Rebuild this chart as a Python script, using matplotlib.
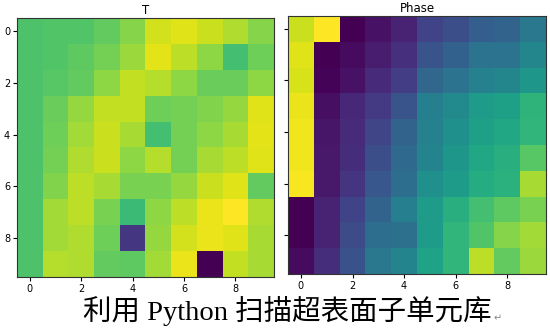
import numpy as np
import matplotlib.pyplot as plt

# transmission amplitude T (normalised), rows = y index, cols = x index
T = np.array([
    [0.72, 0.73, 0.73, 0.76, 0.82, 0.93, 0.95, 0.92, 0.88, 0.82],
    [0.72, 0.73, 0.75, 0.79, 0.85, 0.96, 0.90, 0.83, 0.70, 0.78],
    [0.72, 0.74, 0.76, 0.83, 0.91, 0.89, 0.83, 0.77, 0.77, 0.83],
    [0.72, 0.77, 0.84, 0.91, 0.91, 0.78, 0.79, 0.81, 0.84, 0.95],
    [0.72, 0.78, 0.86, 0.92, 0.87, 0.70, 0.79, 0.83, 0.87, 0.96],
    [0.72, 0.79, 0.88, 0.92, 0.83, 0.89, 0.79, 0.87, 0.90, 0.95],
    [0.72, 0.81, 0.90, 0.87, 0.80, 0.80, 0.84, 0.92, 0.95, 0.76],
    [0.72, 0.86, 0.90, 0.80, 0.68, 0.83, 0.90, 0.97, 1.00, 0.88],
    [0.72, 0.86, 0.88, 0.78, 0.16, 0.84, 0.93, 0.97, 0.95, 0.87],
    [0.72, 0.89, 0.88, 0.76, 0.75, 0.86, 0.97, 0.00, 0.91, 0.87],
])

# phase (normalised)
Phase = np.array([
    [0.92, 1.00, 0.00, 0.05, 0.10, 0.20, 0.24, 0.30, 0.32, 0.40],
    [0.95, 0.00, 0.03, 0.08, 0.14, 0.26, 0.31, 0.38, 0.38, 0.46],
    [0.94, 0.01, 0.05, 0.12, 0.18, 0.33, 0.38, 0.44, 0.46, 0.53],
    [0.97, 0.04, 0.11, 0.17, 0.26, 0.43, 0.48, 0.55, 0.57, 0.65],
    [0.98, 0.06, 0.12, 0.21, 0.32, 0.44, 0.50, 0.57, 0.60, 0.66],
    [0.98, 0.07, 0.13, 0.24, 0.34, 0.45, 0.53, 0.60, 0.63, 0.74],
    [0.99, 0.07, 0.15, 0.27, 0.36, 0.50, 0.55, 0.62, 0.64, 0.87],
    [0.00, 0.10, 0.20, 0.32, 0.43, 0.55, 0.63, 0.70, 0.75, 0.80],
    [0.00, 0.10, 0.23, 0.36, 0.37, 0.55, 0.66, 0.73, 0.82, 0.86],
    [0.03, 0.13, 0.25, 0.40, 0.45, 0.58, 0.66, 0.90, 0.76, 0.85],
])

titles = ['T', 'Phase']
caption = '利用 Python 扫描超表面子单元库'
ticks = [0, 2, 4, 6, 8]

fig = plt.figure(figsize=(5.5, 3.3), dpi=100)
W, H = 550, 330

ax1 = fig.add_axes([17 / W, 1 - 277 / H, 257 / W, 259 / H])
ax2 = fig.add_axes([288 / W, 1 - 274 / H, 258 / W, 258 / H])

for ax, data, title in zip([ax1, ax2], [T, Phase], titles):
    ax.imshow(data, cmap='viridis', aspect='auto')
    ax.set_title(title, fontsize=8.5, pad=3)
    ax.set_xticks(ticks)
    ax.set_yticks(ticks)
    ax.tick_params(labelsize=7, length=3, pad=2)
    for s in ax.spines.values():
        s.set_color('#333333')

# right panel's y labels are hidden behind the left image in the screenshot
ax2.set_yticklabels([])

fig.text(0.522, 1 - 311 / H, caption, fontsize=20.5, color='black',
         family=['Liberation Serif', 'Noto Sans CJK SC'],
         ha='center', va='center')
fig.text(494 / W, 1 - 318 / H, '↵', fontsize=7, color='#888888',
         family=['DejaVu Sans'], ha='left', va='center')

fig.savefig('out.png', dpi=100)
